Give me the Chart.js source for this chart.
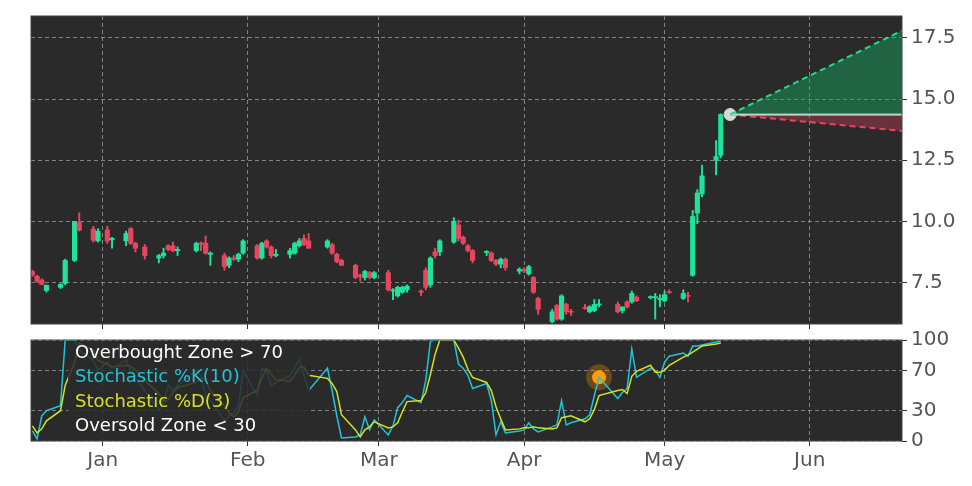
<!DOCTYPE html>
<html><head><meta charset="utf-8">
<script src="https://cdn.jsdelivr.net/npm/chart.js@4/dist/chart.umd.min.js"></script>
<style>
html,body{margin:0;padding:0;background:#fff;width:972px;height:486px;overflow:hidden}
#a{position:absolute;left:0;top:0}
#b{position:absolute;left:0;top:324px}
</style></head><body>
<div id="a" style="width:972px;height:340px"><canvas id="c1"></canvas></div>
<div id="b" style="width:972px;height:152px"><canvas id="c2"></canvas></div>
<script>
// trading day offsets (days since Jan 1)
const days = [-15,-14,-13,-12,-9,-8,-6,-5,-2,-1,1,2,5,6,7,9,12,13,14,15,16,20,21,22,23,26,27,28,29,30,33,34,35,36,37,40,41,42,43,44,48,49,50,51,54,55,56,57,58,61,62,63,64,65,68,69,70,71,72,75,76,77,78,79,82,83,84,85,86,89,90,91,92,93,96,97,98,99,100,103,104,105,106,110,111,112,113,114,117,118,119,120,121,124,125,126,127,128,131,132];
const opens = [7.95,7.75,7.6,7.17,7.3,7.46,8.4,9.95,9.68,9.2,9.65,9.25,9.2,9.7,9.1,8.95,8.5,8.6,9.0,9.0,8.8,8.8,9.1,9.1,8.65,8.6,8.2,8.5,8.45,8.7,9.0,8.5,9.2,8.95,8.6,8.65,8.7,9.0,9.3,9.2,8.95,9.05,8.65,8.4,8.2,7.8,7.7,7.9,7.7,7.9,7.15,6.95,7.1,7.2,7.15,8.0,7.4,8.75,8.75,9.15,9.85,9.35,9.0,8.8,8.72,8.7,8.4,8.25,8.45,7.98,8.02,7.85,7.7,6.85,5.9,6.55,6.0,6.6,6.32,6.47,6.3,6.35,6.58,6.6,6.35,6.7,6.7,6.9,6.88,6.88,6.8,6.75,7.12,6.85,6.97,7.79,10.34,11.12,12.5,12.7];
const highs = [8.0,7.8,7.65,7.4,7.45,8.45,10.0,10.35,9.8,9.7,9.8,9.35,9.6,9.75,9.15,9.05,8.65,8.9,9.05,9.15,8.95,9.15,9.15,9.4,8.75,8.7,8.55,8.6,8.7,9.25,9.05,9.15,9.25,9.0,8.85,8.9,9.15,9.3,9.45,9.5,9.25,9.1,8.7,8.45,8.25,7.85,8.0,7.95,7.95,8.0,7.25,7.35,7.35,7.4,7.2,8.1,8.55,8.9,9.25,10.15,10.05,9.4,9.05,8.85,8.8,8.75,8.45,8.5,8.5,8.1,8.1,8.2,7.75,6.9,6.4,6.6,7.0,6.65,6.4,6.6,6.55,6.8,6.8,6.7,6.5,6.75,7.15,6.95,6.95,7.05,7.0,7.15,7.2,7.2,7.1,10.45,11.3,12.3,13.3,14.4];
const lows = [7.75,7.5,7.4,7.1,7.25,7.4,8.35,9.6,9.15,9.15,9.1,8.9,9.0,9.05,8.75,8.45,8.3,8.5,8.8,8.75,8.6,8.75,8.8,8.65,8.2,8.0,8.1,8.4,8.35,8.65,8.45,8.45,8.9,8.5,8.55,8.5,8.65,8.95,9.0,8.9,8.9,8.65,8.3,8.2,7.65,7.55,7.6,7.65,7.65,7.15,6.8,6.9,7.05,7.1,6.95,7.2,7.3,8.5,8.6,9.1,9.2,9.05,8.75,8.3,8.6,8.35,8.2,8.1,8.0,7.85,7.9,7.8,7.05,6.2,5.85,5.95,5.95,6.2,6.15,6.4,6.25,6.3,6.5,6.25,6.25,6.45,6.65,6.72,6.82,6.0,6.5,6.7,7.05,6.8,6.7,7.75,9.9,11.0,11.9,12.6];
const closes = [7.8,7.55,7.42,7.38,7.42,8.4,10.0,9.64,9.23,9.6,9.2,9.3,9.5,9.1,8.9,8.6,8.6,8.7,8.85,8.8,8.85,9.1,9.08,8.7,8.7,8.15,8.5,8.45,8.65,9.2,8.5,9.1,8.95,8.6,8.65,8.8,9.1,9.2,9.05,8.9,9.2,8.7,8.35,8.2,7.7,7.75,7.95,7.7,7.9,7.2,7.2,7.3,7.3,7.35,7.1,7.3,8.5,8.6,9.2,10.0,9.3,9.1,8.8,8.4,8.77,8.4,8.25,8.45,8.1,8.02,7.98,8.15,7.1,6.4,6.3,6.0,6.95,6.3,6.28,6.43,6.5,6.6,6.62,6.3,6.5,6.5,7.05,6.75,6.92,6.92,6.85,7.0,7.08,7.05,6.93,10.2,11.16,11.86,12.65,14.37];
const stochK = [10,2,25,30,35,100,100,90,80,70,78,72,80,70,62,50,30,38,55,50,55,70,65,45,40,20,25,28,35,70,45,72,70,55,58,65,72,81,65,50,72,50,25,3,4,6,24,11,21,6,15,33,38,45,38,60,99,100,100,100,76,72,65,52,57,40,6,19,8,10,11,18,12,9,14,16,40,16,18,22,26,45,63,42,48,52,91,63,72,70,63,78,84,87,84,94,94,95,98,99];
const stochD = [15,8,12,20,30,55,78,97,90,80,76,73,75,74,70,60,47,39,41,48,53,58,63,60,50,35,28,24,29,43,50,62,72,66,61,59,65,73,73,65,62,57,49,26,11,4,11,14,19,13,14,18,29,39,40,48,66,86,100,100,92,83,71,63,58,50,34,22,11,12,13,13,14,13,12,13,23,24,25,19,22,31,45,50,51,47,64,69,75,68,68,70,75,83,85,88,91,94,96,97];
const monthTicks = [0,31,59,90,120,151];
const monthLabels = ['Jan','Feb','Mar','Apr','May','Jun'];
const priceTicks = [7.5,10,12.5,15,17.5];
const stochTicks = [0,30,70,100];
const forecastStart = {day:134, price:14.37};
const forecastEnd = {day:170.7, upper:17.8, lower:13.7};
const highlightIdx = 82;

const XMIN=-15.3, XMAX=170.7;
const GREEN='#1fe39a', RED='#e8455e', BG='#2a2a2a', GRID='rgba(190,190,190,0.6)';
const bgPlugin={id:'bg',beforeDraw(c){const a=c.chartArea,x=c.ctx;x.save();x.fillStyle=BG;x.fillRect(a.left,a.top,a.width,a.height);x.restore();},
 afterDraw(c){const a=c.chartArea,x=c.ctx;x.save();x.strokeStyle='#444';x.lineWidth=1;x.strokeRect(a.left,a.top,a.width,a.height);x.restore();}};
const fitY=(s)=>{s.width=70;};
const xScale=(showLabels)=>({type:'linear',min:XMIN,max:XMAX,offset:false,
  afterBuildTicks:s=>{s.ticks=monthTicks.map(v=>({value:v}));},
  ticks:{display:showLabels,autoSkip:false,color:'#555',font:{family:'DejaVu Sans',size:20},padding:3,
    callback:(v)=>monthLabels[monthTicks.indexOf(v)]},
  grid:{color:GRID,drawTicks:true,tickLength:5,tickColor:'#333',offset:false},border:{display:false,dash:[4,3]}});
const dashGrid={color:GRID,tickColor:'#333',tickLength:5};

const colors=days.map((d,i)=>closes[i]>=opens[i]?GREEN:RED);
const bodies=days.map((d,i)=>{let lo=Math.min(opens[i],closes[i]),hi=Math.max(opens[i],closes[i]);if(hi-lo<0.04){hi+=0.02;lo-=0.02;}return {x:d,y:[lo,hi]};});
const wicks=days.map((d,i)=>({x:d,y:[lows[i],highs[i]]}));

new Chart(document.getElementById('c1'),{
 type:'bar',
 data:{datasets:[
  {type:'line',data:[{x:forecastStart.day,y:forecastStart.price},{x:forecastEnd.day,y:forecastEnd.upper}],borderColor:'#22dd88',borderWidth:2,borderDash:[6,4],pointRadius:0,fill:{target:1},backgroundColor:'rgba(20,170,100,0.45)'},
  {type:'line',data:[{x:forecastStart.day,y:forecastStart.price},{x:forecastEnd.day,y:forecastStart.price}],borderColor:'#e8e8e8',borderWidth:2,pointRadius:0},
  {type:'line',data:[{x:forecastStart.day,y:forecastStart.price},{x:forecastEnd.day,y:forecastEnd.lower}],borderColor:'#e8455e',borderWidth:2,borderDash:[6,4],pointRadius:0,fill:{target:1},backgroundColor:'rgba(200,60,80,0.4)'},
  {data:wicks,backgroundColor:colors,barThickness:1.3,grouped:false},
  {data:bodies,backgroundColor:colors,barThickness:4.5,grouped:false},
  {type:'scatter',data:[{x:forecastStart.day,y:forecastStart.price}],pointRadius:6,backgroundColor:'#d8d8d8',borderColor:'#d8d8d8'}
 ]},
 options:{responsive:true,maintainAspectRatio:false,animation:false,
  layout:{padding:{left:31,top:15,right:0,bottom:0}},
  plugins:{legend:{display:false},tooltip:{enabled:false}},
  scales:{x:xScale(false),
   y:{position:'right',min:5.8,max:18.4,afterFit:fitY,
    afterBuildTicks:s=>{s.ticks=priceTicks.map(v=>({value:v}));},
    ticks:{color:'#555',font:{family:'DejaVu Sans',size:20},padding:4,callback:v=>v.toFixed(1)},
    grid:dashGrid,border:{display:false,dash:[4,3]}}}},
 plugins:[bgPlugin]});

const legendPlugin={id:'leg',afterDatasetsDraw(c){const a=c.chartArea,x=c.ctx;x.save();
 x.fillStyle='rgba(42,42,42,0.85)';x.fillRect(68,a.top+1,242,a.height-1);
 x.font='18px DejaVu Sans';x.textBaseline='middle';
 const items=[['Overbought Zone > 70','#ffffff'],['Stochastic %K(10)','#20c4d8'],['Stochastic %D(3)','#d7e020'],['Oversold Zone < 30','#ffffff']];
 items.forEach((t,i)=>{x.fillStyle=t[1];x.fillText(t[0],75,a.top+13+i*24.5);});
 x.restore();}};

new Chart(document.getElementById('c2'),{
 type:'line',
 data:{datasets:[
  {data:days.map((d,i)=>({x:d,y:stochD[i]})),borderColor:'#d7e020',borderWidth:1.5,pointRadius:0},
  {data:days.map((d,i)=>({x:d,y:stochK[i]})),borderColor:'#20c4d8',borderWidth:1.5,pointRadius:0},
  {type:'scatter',data:[{x:days[highlightIdx],y:stochK[highlightIdx]}],pointRadius:13,backgroundColor:'rgba(255,150,0,0.3)',borderWidth:0},
  {type:'scatter',data:[{x:days[highlightIdx],y:stochK[highlightIdx]}],pointRadius:7,backgroundColor:'#ff9f00',borderWidth:0}
 ]},
 options:{responsive:true,maintainAspectRatio:false,animation:false,
  layout:{padding:{left:31,top:3,right:0,bottom:0}},
  plugins:{legend:{display:false},tooltip:{enabled:false}},
  scales:{x:xScale(true),
   y:{position:'right',min:0,max:100,afterFit:fitY,
    afterBuildTicks:s=>{s.ticks=stochTicks.map(v=>({value:v}));},
    ticks:{color:'#555',font:{family:'DejaVu Sans',size:20},padding:4},
    grid:dashGrid,border:{display:false,dash:[4,3]}}}},
 plugins:[bgPlugin,legendPlugin]});
</script></body></html>
